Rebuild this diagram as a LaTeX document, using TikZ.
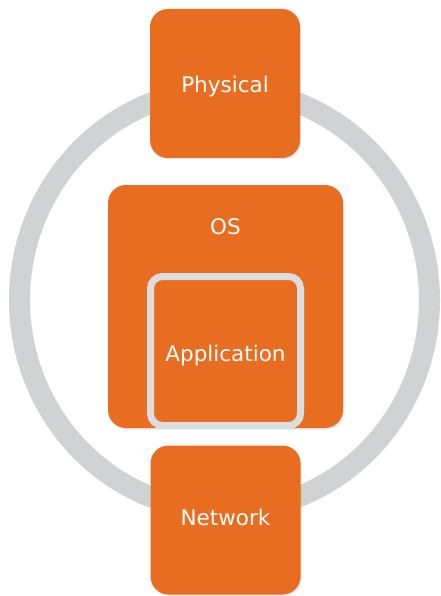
\documentclass[tikz,border=0pt]{standalone}
\usepackage{fontspec}
\setmainfont{DejaVu Sans}
\usepackage{xcolor}
\usepackage{tikz}
\usetikzlibrary{positioning,shadows}
\definecolor{layerorange}{HTML}{E86D21}
\definecolor{ringgray}{HTML}{D1D2D4}
\definecolor{appgray}{HTML}{DCDDDE}
\tikzset{
  layer/.style={rectangle, rounded corners=18pt, fill=layerorange,
                draw=none, inner sep=0pt, minimum width=150pt, minimum height=149pt,
                drop shadow={opacity=0.18, shadow xshift=1.2pt, shadow yshift=-1.5pt}},
  appbox/.style={layer, draw=appgray, line width=7pt, rounded corners=12pt,
                 drop shadow={opacity=0}},
  txt/.style={text=white, font=\fontsize{21.5}{24}\selectfont, inner sep=0pt, anchor=base},
  ring/.style={draw=ringgray, line width=21pt},
}

\begin{document}
\begin{tikzpicture}[x=1pt,y=-1pt]
  \useasboundingbox (0,0) rectangle (440,596);
  \draw[ring] (224.5,300) ellipse [x radius=205, y radius=211];
  \node[layer, minimum width=235pt, minimum height=243pt] (os) at (225.5,306.5) {};
  \node[txt] (ostxt) at (225.5,234.5) {OS};
  \node[appbox] (app) at (225.5,351) {};
  \node[txt] (apptxt) at (225.5,361.5) {Application};
  \node[layer] (phys) at (225,83.5) {};
  \node[txt] (phystxt) at (225,92.5) {Physical};
  \node[layer] (net) at (225.5,520) {};
  \node[txt] (nettxt) at (225.5,525.5) {Network};
\end{tikzpicture}
\end{document}
